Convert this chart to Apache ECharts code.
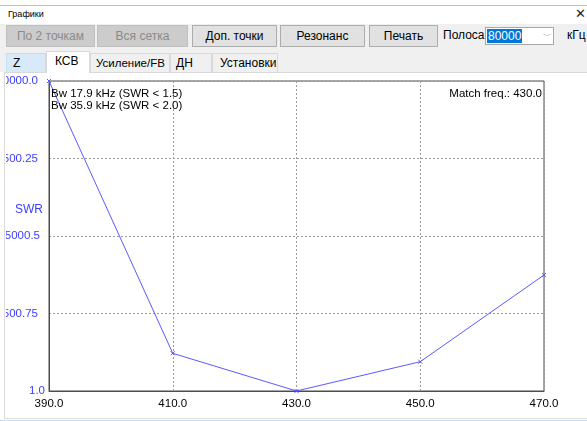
<!DOCTYPE html>
<html>
<head>
<meta charset="utf-8">
<script src="https://cdn.jsdelivr.net/npm/echarts@6/dist/echarts.min.js"></script>
<style>
  html, body { margin:0; padding:0; width:587px; height:421px; overflow:hidden; background:#fff;
    font-family:"Liberation Sans", Arial, sans-serif; font-size:12px; }
  .abs { position:absolute; box-sizing:border-box; }
  .topline { left:0; top:5px; width:587px; height:1px; background:#a9c4ec; }
  .title { left:8px; top:9px; font-size:9px; color:#000; }
  .close { left:575px; top:6px; font-size:13px; color:#222; }
  .panel { left:0; top:24px; width:587px; height:48px; background:#f0f0f0; }
  .btn { top:25px; height:22px; border:1px solid #adadad; background:#e1e1e1; color:#000;
    display:flex; align-items:center; justify-content:center; white-space:nowrap; }
  .btn.dis { background:#cccccc; border-color:#bfbfbf; color:#8a8a8a; }
  .lbl { top:28px; color:#000; white-space:nowrap; }
  .combo { left:485px; top:27px; width:69px; height:18px; border:1px solid #a6a6a6; background:#fff; }
  .sel { left:487px; top:29px; height:14px; background:#0078d7; color:#fff; line-height:14px; padding:0 1px; }
  .arrow { left:543px; top:30px; font-size:9px; color:#777; }
  .tab { top:53px; height:19px; border:1px solid #d9d9d9; border-bottom:none; background:#f0f0f0;
    display:flex; align-items:center; white-space:nowrap; color:#000; }
  .tab.hov { background:#d8eaf9; border-color:#c4ddf4; }
  .tab.act { top:51px; height:22px; background:#fff; border-color:#d9d9d9; z-index:2; padding-bottom:3px; }
  .page { left:4px; top:72px; width:590px; height:347px; border-left:1px solid #dcdcdc; border-top:1px solid #d9d9d9; border-bottom:1px solid #dcdcdc; background:#fff; }
  .botline { left:0; top:420px; width:587px; height:1px; background:#c7d8f0; }
  #chart { position:absolute; left:6px; top:72px; width:581px; height:346px; z-index:3; }
</style>
</head>
<body>
<div class="abs topline"></div>
<div class="abs title">Графики</div>
<div class="abs close">✕</div>
<div class="abs panel"></div>
<div class="abs btn dis" style="left:6px;width:89px;">По 2 точкам</div>
<div class="abs btn dis" style="left:97px;width:91px;">Вся сетка</div>
<div class="abs btn" style="left:192px;width:85px;">Доп. точки</div>
<div class="abs btn" style="left:280px;width:85px;">Резонанс</div>
<div class="abs btn" style="left:369px;width:69px;">Печать</div>
<div class="abs lbl" style="left:443px;">Полоса</div>
<div class="abs combo"></div>
<div class="abs sel">80000</div>
<div class="abs arrow">﹀</div>
<div class="abs lbl" style="left:567px;">кГц</div>
<div class="abs page"></div>
<div class="abs tab hov" style="left:6px;width:40px;padding-left:6px;">Z</div>
<div class="abs tab act" style="left:46px;width:44px;padding-left:8px;">КСВ</div>
<div class="abs tab" style="left:90px;width:80px;padding-left:5px;font-size:11.5px;">Усиление/FB</div>
<div class="abs tab" style="left:170px;width:42px;padding-left:5px;">ДН</div>
<div class="abs tab" style="left:212px;width:66px;padding-left:7px;">Установки</div>
<div class="abs botline"></div>
<div id="chart"></div>
<script>
// Frequencies (MHz) along the x axis
var freqLabels = ['390.0', '410.0', '430.0', '450.0', '470.0'];
// SWR values
var swrValues = [10000, 1216, 1, 945, 3742];
// Y axis tick labels as displayed
var yTickLabels = ['1.0', '2500.75', '5000.5', '7500.25', '10000.0'];
// Annotation texts
var bwTexts = ['Bw 17.9 kHz (SWR < 1.5)', 'Bw 35.9 kHz (SWR < 2.0)'];
var matchText = 'Match freq.: 430.0';
var yName = 'SWR';

var FONT = '"Liberation Sans", Arial, sans-serif';
var FS = 11.5;
var chart = echarts.init(document.getElementById('chart'), null, {renderer:'canvas'});
var labelBlue = '#3d3dff';
var lineBlue = '#5a5aff';
chart.setOption({
  animation: false,
  grid: { left: 43, right: 43, top: 9, bottom: 27, containLabel: false, outerBoundsMode: 'none',
    show: true, borderColor: '#4d4d4d', borderWidth: 1, backgroundColor: 'transparent' },
  xAxis: {
    type: 'category', data: freqLabels, boundaryGap: false,
    axisLine: { show: true, lineStyle: { color: '#4d4d4d', width: 1 } },
    axisTick: { show: false },
    axisLabel: { color: '#000', fontFamily: FONT, fontSize: FS, margin: 7 },
    splitLine: { show: true, lineStyle: { color: '#9a9a9a', type: [2, 2], width: 1 } }
  },
  yAxis: {
    type: 'value', min: 0, max: 10000, interval: 2500,
    axisLine: { show: true, lineStyle: { color: '#4d4d4d', width: 1 } },
    axisTick: { show: false },
    axisLabel: {
      margin: 4, color: labelBlue, fontFamily: FONT, fontSize: FS,
      formatter: function (v, i) {
        var t = yTickLabels[i];
        if (i === 0) return '{c|' + t + '}';
        if (i === 2) return '{b|' + t + '}';
        return '{a|' + t + '}';
      },
      rich: {
        a: { color: labelBlue, fontFamily: FONT, fontSize: FS, padding: [0, 7, 0, 0] },
        b: { color: labelBlue, fontFamily: FONT, fontSize: FS, padding: [0, 5, 0, 0] },
        c: { color: labelBlue, fontFamily: FONT, fontSize: FS, padding: [0, 0, 0, 0] }
      }
    },
    splitLine: { show: true, lineStyle: { color: '#9a9a9a', type: [2, 2], width: 1 } }
  },
  series: [{
    type: 'line', data: swrValues,
    lineStyle: { color: lineBlue, width: 1 },
    symbol: 'path://M0,0L4,4M4,0L0,4', symbolSize: 4,
    itemStyle: { color: 'transparent', borderColor: lineBlue, borderWidth: 1 },
    emphasis: { disabled: true }
  }],
  graphic: [
    { type: 'text', left: 9, top: 132, style: { text: yName, fill: labelBlue, font: '12px ' + FONT } },
    { type: 'text', left: 45, top: 16, z: 10, style: { text: bwTexts.join('\n'), fill: '#000', font: FS + 'px ' + FONT, lineHeight: 12 } },
    { type: 'text', right: 45, top: 16, z: 10, style: { text: matchText, fill: '#000', font: FS + 'px ' + FONT } }
  ]
});
</script>
</body>
</html>
